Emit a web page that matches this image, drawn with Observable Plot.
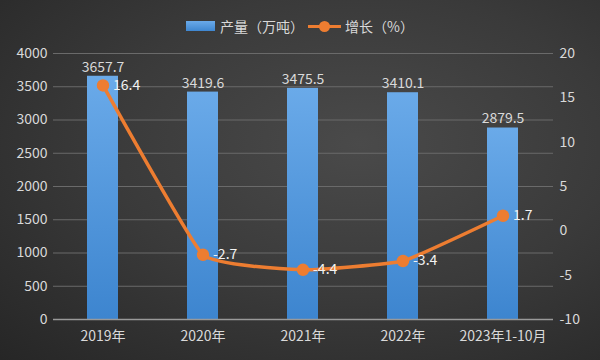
<!DOCTYPE html>
<html><head><meta charset="utf-8">
<script src="https://cdn.jsdelivr.net/npm/d3@7"></script>
<script src="https://cdn.jsdelivr.net/npm/@observablehq/plot@0.6"></script>
<style>
body{margin:0;padding:0;}
#wrap{position:relative;width:600px;height:360px;overflow:hidden;
background:radial-gradient(ellipse at 60% 40%, #4a4a4a 0%, #3a3a3a 50%, #262626 100%);
font-family:"Noto Sans CJK SC","Noto Sans",sans-serif;}
#legend{position:absolute;top:14px;left:0;width:600px;text-align:center;color:#d9d9d9;font-size:14px;z-index:2;}
#legend span{display:inline-flex;align-items:center;margin:0 2px;vertical-align:middle;}
.sw{display:inline-block;width:29px;height:10px;background:linear-gradient(#6aaae9,#3f87d0);margin-right:5px;}
.ln{position:relative;display:inline-block;width:33px;height:3px;background:#ed7d31;margin-right:4px;}
.ln::after{content:"";position:absolute;left:11px;top:-4px;width:11px;height:11px;border-radius:50%;background:#ed7d31;}
svg{position:absolute;top:0;left:0;}
</style></head><body>
<div id="wrap"><div id="legend"><span><i class="sw"></i>产量（万吨）</span><span><i class="ln"></i>增长（%）</span></div></div>
<script>
const categories = ["2019年","2020年","2021年","2022年","2023年1-10月"];
const output = [3657.7, 3419.6, 3475.5, 3410.1, 2879.5];
const growth = [16.4, -2.7, -4.4, -3.4, 1.7];
const leftTicks = [0,500,1000,1500,2000,2500,3000,3500,4000];
const rightTicks = [-10,-5,0,5,10,15,20];

const toLeft = d3.scaleLinear().domain([-10,20]).range([0,4000]);
const data = categories.map((c,i)=>({c, v:output[i], g:growth[i], gy:toLeft(growth[i])}));
const txt = "#d9d9d9";

const plot = Plot.plot({
  width:600, height:360,
  marginLeft:53, marginRight:47, marginTop:53, marginBottom:41,
  style:{background:"transparent", color:txt, fontFamily:'"Noto Sans CJK SC","Noto Sans",sans-serif', fontSize:"13px"},
  x:{domain:categories, paddingInner:0.69, paddingOuter:0.345, label:null},
  y:{domain:[0,4000], label:null},
  marks:[
    Plot.gridY(leftTicks.slice(1), {stroke:"#6a6a6a", strokeOpacity:1, strokeWidth:1}),
    Plot.barY(data, {x:"c", y:"v", fill:"url(#barGrad)"}),
    Plot.ruleY([0], {stroke:"#999", strokeWidth:1.5}),
    Plot.axisY(leftTicks, {anchor:"left", tickSize:0, tickPadding:6, fontSize:14, fill:txt, label:null, tickFormat:d=>String(d)}),
    Plot.axisY(rightTicks.map(toLeft), {anchor:"right", tickSize:0, tickPadding:6, fontSize:14, fill:txt, label:null, tickFormat:d=>String(Math.round(toLeft.invert(d)))}),
    Plot.axisX({tickSize:0, tickPadding:12, fontSize:14, fill:txt, label:null}),
    Plot.text(data, {x:"c", y:"v", text:d=>d.v.toFixed(1), dy:-9, fill:txt, fontSize:14}),
    Plot.line(data, {x:"c", y:"gy", stroke:"#ed7d31", strokeWidth:3.5, curve:"cardinal", tension:0.65}),
    Plot.dot(data, {x:"c", y:"gy", r:5.5, fill:"#ed7d31", stroke:"#ed7d31"}),
    Plot.text(data, {x:"c", y:"gy", text:d=>d.g.toFixed(1), dx:10, textAnchor:"start", fill:"#f2f2f2", fontSize:14})
  ]
});
const defs = d3.create("svg:defs");
const grad = defs.append("linearGradient").attr("id","barGrad").attr("x1",0).attr("y1",0).attr("x2",0).attr("y2",1);
grad.append("stop").attr("offset","0%").attr("stop-color","#6aaae9");
grad.append("stop").attr("offset","100%").attr("stop-color","#3d85cf");
plot.insertBefore(defs.node(), plot.firstChild);
document.getElementById("wrap").appendChild(plot);
</script>
</body></html>
